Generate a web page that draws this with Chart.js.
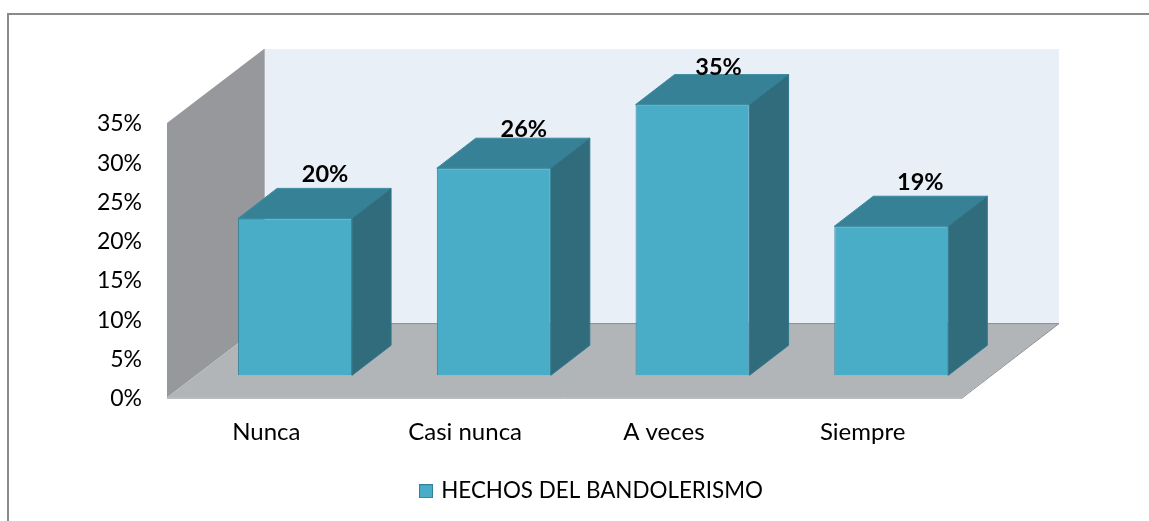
<!DOCTYPE html>
<html><head><meta charset="utf-8">
<style>html,body{margin:0;padding:0;background:#fff;overflow:hidden}canvas{display:block}</style>
<script src="https://cdn.jsdelivr.net/npm/chart.js@4"></script>
</head><body><canvas id="c" width="1149" height="521"></canvas>
<script>
const categories = ["Nunca", "Casi nunca", "A veces", "Siempre"];
const seriesName = "HECHOS DEL BANDOLERISMO";
const values = [20, 26.4, 34.5, 19];
const valueLabels = ["20%", "26%", "35%", "19%"];
const yTicks = [0, 5, 10, 15, 20, 25, 30, 35];

const FONT = "Lato, Carlito, sans-serif";
const WALL = {dx: 97, dy: -74};     // depth of the 3D box
const BAR_SHIFT = {dx: 28.7, dy: -22.3}; // bar position inside the box
const BAR_DEPTH = {dx: 39, dy: -30};
const LABEL_LIFT = [44, 39, 37, 44];
const LABEL_DX = [30, 30, 26, 29];

function poly(ctx, pts, fill, stroke, lw) {
  ctx.beginPath();
  pts.forEach((p, i) => i ? ctx.lineTo(p[0], p[1]) : ctx.moveTo(p[0], p[1]));
  ctx.closePath();
  if (fill) { ctx.fillStyle = fill; ctx.fill(); }
  if (stroke) { ctx.strokeStyle = stroke; ctx.lineWidth = lw || 1; ctx.stroke(); }
}

const marker = document.createElement("canvas");
marker.width = 14; marker.height = 14;
(function () {
  const m = marker.getContext("2d");
  m.fillStyle = "#4AADC8"; m.fillRect(0, 0, 14, 14);
  m.strokeStyle = "#2F8199"; m.lineWidth = 1; m.strokeRect(0.5, 0.5, 13, 13);
})();

const bar3d = {
  id: "bar3d",
  afterLayout(chart) {
    const l = chart.legend;
    l.left += 111.5; l.right += 111.5;
    const h = l.bottom - l.top;
    l.top = 476; l.bottom = 476 + h;
  },
  beforeDraw(chart) {
    const ctx = chart.ctx, a = chart.chartArea;
    ctx.save();
    // outer frame
    ctx.strokeStyle = "#8a8a8a"; ctx.lineWidth = 2;
    ctx.beginPath(); ctx.moveTo(8, 521); ctx.lineTo(8, 14); ctx.lineTo(1149, 14); ctx.stroke();
    const L = a.left, R = a.right, T = a.top, B = a.bottom, dx = WALL.dx, dy = WALL.dy;
    // back wall
    poly(ctx, [[L+dx,T+dy],[R+dx,T+dy],[R+dx,B+dy],[L+dx,B+dy]], "#E8EFF6");
    // left wall
    poly(ctx, [[L,T],[L+dx,T+dy],[L+dx,B+dy],[L,B]], "#96989C");
    ctx.strokeStyle = "#B4B6B9"; ctx.lineWidth = 1;
    ctx.beginPath(); ctx.moveTo(L+dx+0.5,T+dy); ctx.lineTo(L+dx+0.5,B+dy); ctx.stroke();
    // floor
    poly(ctx, [[L,B],[R,B],[R+dx,B+dy],[L+dx,B+dy]], "#B1B5B8");
    ctx.strokeStyle = "#8B8E91"; ctx.lineWidth = 1;
    ctx.beginPath(); ctx.moveTo(L,B+0.5); ctx.lineTo(R,B+0.5); ctx.lineTo(R+dx,B+dy); ctx.lineTo(L+dx,B+dy); ctx.stroke();
    ctx.restore();
  },
  beforeDatasetDraw(chart, args) {
    const ctx = chart.ctx, meta = args.meta, base = chart.scales.y.getPixelForValue(0);
    ctx.save();
    ctx.translate(BAR_SHIFT.dx, BAR_SHIFT.dy);
    meta.data.forEach(el => {
      const p = el.getProps(["x", "y", "width"], true);
      const l = p.x - p.width/2, r = p.x + p.width/2, t = p.y, dx = BAR_DEPTH.dx, dy = BAR_DEPTH.dy;
      poly(ctx, [[l,t],[r,t],[r+dx,t+dy],[l+dx,t+dy]], "#378197", "#3B8BA2", 1);
      poly(ctx, [[r,t],[r+dx,t+dy],[r+dx,base+dy],[r,base]], "#316C7C", "#31788C", 1);
    });
  },
  afterDatasetDraw(chart) {
    chart.ctx.restore();
  },
  afterDatasetsDraw(chart) {
    const ctx = chart.ctx, meta = chart.getDatasetMeta(0);
    ctx.save();
    ctx.font = "bold 23.5px " + FONT;
    ctx.fillStyle = "#000";
    ctx.textAlign = "center"; ctx.textBaseline = "middle";
    meta.data.forEach((el, i) => {
      ctx.fillText(valueLabels[i], el.x + BAR_SHIFT.dx + LABEL_DX[i], el.y + BAR_SHIFT.dy - LABEL_LIFT[i]);
    });
    ctx.restore();
  }
};

new Chart(document.getElementById("c"), {
  type: "bar",
  data: {
    labels: categories,
    datasets: [{
      label: seriesName,
      data: values,
      backgroundColor: "#4AADC8",
      borderColor: "#2F8199",
      borderWidth: 1,
      barPercentage: 0.5736,
      categoryPercentage: 1,
      clip: false
    }]
  },
  options: {
    responsive: false,
    animation: false,
    layout: {padding: {left: 0, right: 187, top: 123, bottom: 0}},
    plugins: {
      tooltip: {enabled: false},
      legend: {
        position: "bottom",
        labels: {
          boxWidth: 14, boxHeight: 14, padding: 4, color: "#000",
          usePointStyle: true, pointStyle: marker, pointStyleWidth: 8,
          font: {family: FONT, size: 22.4}
        }
      }
    },
    scales: {
      x: {
        grid: {display: false, drawTicks: false},
        border: {display: false},
        afterFit(s) { s.height = 87 },
        ticks: {color: "#000", font: {family: FONT, size: 24}, padding: 20, maxRotation: 0, autoSkip: false}
      },
      y: {
        min: 0, max: 35,
        grid: {display: false, drawTicks: false},
        border: {display: false},
        afterFit(s) { s.width = 167 },
        afterBuildTicks(s) { s.ticks = yTicks.map(v => ({value: v})) },
        ticks: {color: "#000", font: {family: FONT, size: 23}, padding: 25, labelOffset: 1, callback: v => v + "%"}
      }
    }
  },
  plugins: [bar3d]
});
</script></body></html>
